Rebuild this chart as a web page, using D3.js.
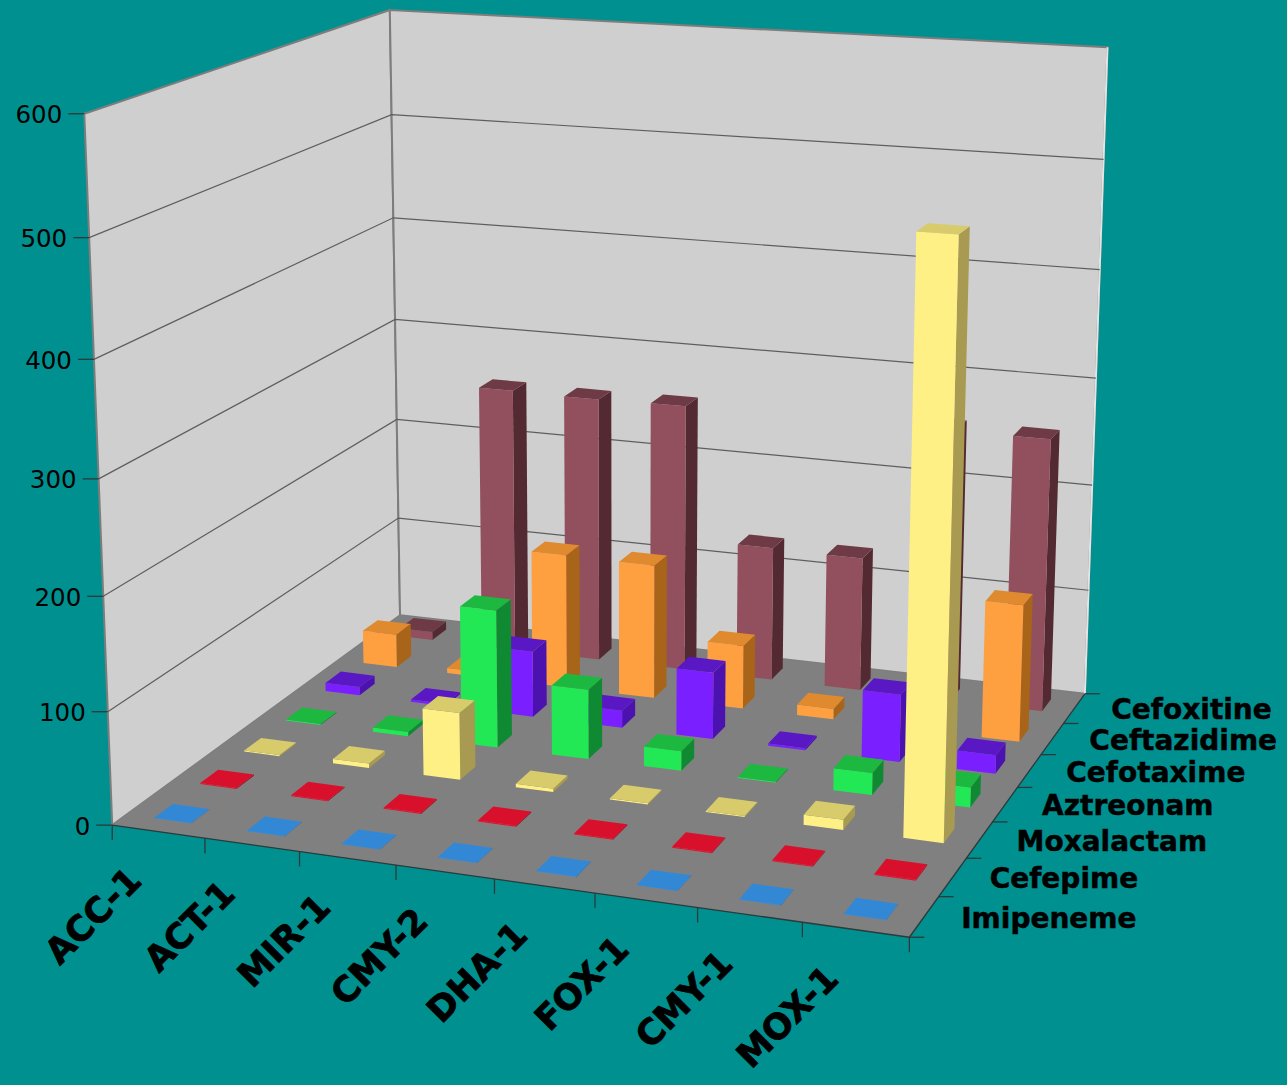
<!DOCTYPE html>
<html>
<head>
<meta charset="utf-8">
<script src="https://cdnjs.cloudflare.com/ajax/libs/d3/7.8.5/d3.min.js"></script>
<style>
html,body{margin:0;padding:0;background:#009090;overflow:hidden}
svg{display:block}
text{font-family:"DejaVu Sans",Verdana,sans-serif;fill:#000}
</style>
</head>
<body>
<svg id="chart" width="1287" height="1085"></svg>
<script>
// Resistance values per enzyme (columns) and antibiotic (rows, front to back).
const categories = ["ACC-1","ACT-1","MIR-1","CMY-2","DHA-1","FOX-1","CMY-1","MOX-1"];
const seriesNames = ["Imipeneme","Cefepime","Moxalactam","Aztreonam","Cefotaxime","Ceftazidime","Cefoxitine"];
const imipeneme   = [0.5,0.5,0.5,0.5,0.5,0.5,0.5,0.5];
const cefepime    = [1,1,1,1,1,1,1,1];
const moxalactam  = [1,4,61,3,1,1,9,510];
const aztreonam   = [1,4,127,64,18,1,20,18];
const cefotaxime  = [8,2,62,16,62,2,62,17];
const ceftazidime = [32,5,128,127,60,10,4,127];
const cefoxitine  = [8,256,255,256,128,127,257,256];
const valueTicks  = [0,100,200,300,400,500,600];
const faceColors  = ["#3a8fdc","#e8112d","#fff085","#22e855","#7a1fff","#ffa040","#92505e"];
const topColors   = ["#3388d6","#d9102c","#d8cb6c","#1cb840","#5a18c4","#e08a30","#6e3a45"];
const sideColors  = ["#2a6aa8","#a00c20","#a89a50","#0f8a33","#4b12b0","#a86418","#532a32"];

const rows = [imipeneme,cefepime,moxalactam,aztreonam,cefotaxime,ceftazidime,cefoxitine];

const barFraction = 0.40;
const uScale = d3.scaleBand().domain(categories).range([0,1]).paddingInner(1-barFraction).paddingOuter((1-barFraction)/2);
const vScale = d3.scaleBand().domain(seriesNames).range([0,1]).paddingInner(1-barFraction).paddingOuter((1-barFraction)/2);
const wScale = d3.scaleLinear().domain([0,600]).range([0,1]);

// Camera: a projective map from the unit box to the screen, fitted by least squares.
const cameraAnchors = [
  [0,0,0,112,825],[1,0,0,908,938],[1,1,0,1085,690],[0,1,0,400,616],
  [0,0,1,85,113],[0,1,1,389,10],[1,1,1,1107,47],
  [0.5,0,0,495,879],[1,3/7,0,992,823],[1,4/7,0,1018,788],
  [0,0,0.5,99,478],[0,1,0.5,395,320],[1,1,0.5,1097,380]
];
function solve(A,b){
  const n=b.length, M=A.map((r,i)=>[...r,b[i]]);
  for(let i=0;i<n;i++){
    let p=i; for(let k=i+1;k<n;k++) if(Math.abs(M[k][i])>Math.abs(M[p][i])) p=k;
    [M[i],M[p]]=[M[p],M[i]];
    for(let k=i+1;k<n;k++){const f=M[k][i]/M[i][i]; for(let j=i;j<=n;j++) M[k][j]-=f*M[i][j];}
  }
  const x=new Array(n).fill(0);
  for(let i=n-1;i>=0;i--){let s=M[i][n]; for(let j=i+1;j<n;j++) s-=M[i][j]*x[j]; x[i]=s/M[i][i];}
  return x;
}
const camera = (function(){
  const rowsA=[],rhs=[];
  cameraAnchors.forEach(([u,v,w,x,y])=>{
    rowsA.push([u,v,w,1,0,0,0,0,-x*u,-x*v,-x*w]); rhs.push(x);
    rowsA.push([0,0,0,0,u,v,w,1,-y*u,-y*v,-y*w]); rhs.push(y);
  });
  const N=d3.range(11).map(i=>d3.range(11).map(j=>d3.sum(rowsA,r=>r[i]*r[j])));
  const B=d3.range(11).map(i=>d3.sum(rowsA,(r,k)=>r[i]*rhs[k]));
  return solve(N,B);
})();
function project(u,v,w){
  const c=camera, d=c[8]*u+c[9]*v+c[10]*w+1;
  return [(c[0]*u+c[1]*v+c[2]*w+c[3])/d,(c[4]*u+c[5]*v+c[6]*w+c[7])/d];
}
const poly = pts => d3.line()(pts)+"Z";

const svg=d3.select("#chart");
svg.append("rect").attr("width",1287).attr("height",1085).attr("fill","#009090");

// Walls and floor
const frame=svg.append("g");
frame.append("path").attr("d",poly([project(0,0,0),project(0,1,0),project(0,1,1),project(0,0,1)]))
  .attr("fill","#cfcfcf").attr("stroke","#7d7d7d").attr("stroke-width",2);
frame.append("path").attr("d",poly([project(0,1,0),project(1,1,0),project(1,1,1),project(0,1,1)]))
  .attr("fill","#cfcfcf").attr("stroke","#7d7d7d").attr("stroke-width",2);
frame.append("path").attr("d",d3.line()([project(1,1,0),project(1,1,1)]))
  .attr("fill","none").attr("stroke","#e4e4e4").attr("stroke-width",2);
frame.append("path").attr("d",poly([project(0,0,0),project(1,0,0),project(1,1,0),project(0,1,0)]))
  .attr("fill","#808080");

// Gridlines run along both walls
svg.append("g").selectAll("path").data(valueTicks.slice(1,-1)).join("path")
  .attr("d",t=>{const w=wScale(t);return d3.line()([project(0,0,w),project(0,1,w),project(1,1,w)]);})
  .attr("fill","none").attr("stroke","#5e5e5e").attr("stroke-width",1.2);

// Axis lines and ticks
const axes=svg.append("g").attr("stroke","#2b3a3a").attr("stroke-width",1.3).attr("fill","none");
axes.append("path").attr("d",d3.line()([project(0,0,0),project(1,0,0)]));
axes.append("path").attr("d",d3.line()([project(1,0,0),project(1,1,0)]));
axes.selectAll(".vt").data(valueTicks).join("path").attr("class","vt")
  .attr("d",t=>{const p=project(0,0,wScale(t));return d3.line()([[p[0]-16,p[1]],p]);});
axes.selectAll(".ct").data(d3.range(categories.length+1)).join("path").attr("class","ct")
  .attr("d",i=>{const p=project(i/categories.length,0,0);return d3.line()([p,[p[0],p[1]+15]]);});
axes.selectAll(".st").data(d3.range(seriesNames.length+1)).join("path").attr("class","st")
  .attr("d",i=>{const p=project(1,i/seriesNames.length,0);return d3.line()([p,[p[0]+15,p[1]]]);});

// Bars, painted from the back row forward and left to right in each row
const bars=[];
for(let s=seriesNames.length-1;s>=0;s--){
  categories.forEach((c,i)=>bars.push({s,c,value:rows[s][i]}));
}
const barG=svg.append("g").selectAll("g").data(bars).join("g");
function corners(d){
  const u0=uScale(d.c),u1=u0+uScale.bandwidth(),v0=vScale(seriesNames[d.s]),v1=v0+vScale.bandwidth(),w=wScale(d.value);
  return {u0,u1,v0,v1,w};
}
barG.append("path").attr("d",d=>{const k=corners(d);return poly([project(k.u1,k.v0,0),project(k.u1,k.v1,0),project(k.u1,k.v1,k.w),project(k.u1,k.v0,k.w)]);})
  .attr("fill",d=>sideColors[d.s]);
barG.append("path").attr("d",d=>{const k=corners(d);return poly([project(k.u0,k.v0,0),project(k.u1,k.v0,0),project(k.u1,k.v0,k.w),project(k.u0,k.v0,k.w)]);})
  .attr("fill",d=>faceColors[d.s]);
barG.append("path").attr("d",d=>{const k=corners(d);return poly([project(k.u0,k.v0,k.w),project(k.u1,k.v0,k.w),project(k.u1,k.v1,k.w),project(k.u0,k.v1,k.w)]);})
  .attr("fill",d=>topColors[d.s]);

// Axis labels
svg.append("g").selectAll("text").data(valueTicks).join("text")
  .attr("x",t=>project(0,0,wScale(t))[0]-22)
  .attr("y",t=>project(0,0,wScale(t))[1]+1)
  .attr("text-anchor","end").attr("dominant-baseline","central")
  .attr("font-size",24.5).text(t=>t);

svg.append("g").selectAll("text").data(seriesNames).join("text")
  .attr("x",(s,i)=>project(1,(i+0.5)/seriesNames.length,0)[0]+37)
  .attr("y",(s,i)=>project(1,(i+0.5)/seriesNames.length,0)[1]+1.5)
  .attr("dominant-baseline","central").attr("font-size",28).attr("font-weight","bold")
  .attr("stroke","#000").attr("stroke-width",0.5).text(s=>s);

svg.append("g").selectAll("text").data(categories).join("text")
  .attr("transform",(c,i)=>{const p=project((i+0.5)/categories.length,0,0);return `translate(${p[0]-15},${p[1]+51}) rotate(-45)`;})
  .attr("text-anchor","end").attr("font-size",35).attr("font-weight","bold")
  .attr("stroke","#000").attr("stroke-width",0.8).text(c=>c);
</script>
</body>
</html>
